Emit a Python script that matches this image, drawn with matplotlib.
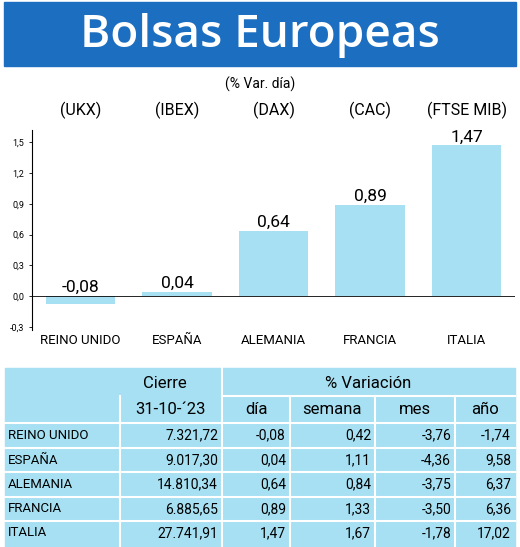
import matplotlib
matplotlib.use("Agg")
import matplotlib.pyplot as plt
from matplotlib.patches import Rectangle

countries = ["REINO UNIDO", "ESPAÑA", "ALEMANIA", "FRANCIA", "ITALIA"]
indices = ["(UKX)", "(IBEX)", "(DAX)", "(CAC)", "(FTSE MIB)"]
var_dia = [-0.08, 0.04, 0.64, 0.89, 1.47]
bar_labels = ["-0,08", "0,04", "0,64", "0,89", "1,47"]
yticks = [-0.3, 0.0, 0.3, 0.6, 0.9, 1.2, 1.5]
ytick_labels = ["-0,3", "0,0", "0,3", "0,6", "0,9", "1,2", "1,5"]
cierre = ["7.321,72", "9.017,30", "14.810,34", "6.885,65", "27.741,91"]
dia = ["-0,08", "0,04", "0,64", "0,89", "1,47"]
semana = ["0,42", "1,11", "0,84", "1,33", "1,67"]
mes = ["-3,76", "-4,36", "-3,75", "-3,50", "-1,78"]
anio = ["-1,74", "9,58", "6,37", "6,36", "17,02"]

W, H = 520, 547
BLUE = "#1c6fc0"
LB = "#a6e0f2"
NARROW = ["Liberation Sans Narrow", "Roboto", "DejaVu Sans"]

fig = plt.figure(figsize=(W/100, H/100), dpi=100)
bg = fig.add_axes([0, 0, 1, 1])
bg.set_xlim(0, W); bg.set_ylim(H, 0); bg.axis("off")

bg.add_patch(Rectangle((4, 2), W-8, 64, color=BLUE))
bg.text(W/2, 35, "Bolsas Europeas", color="white", fontsize=33, ha="center", va="center",
        family=["Open Sans", "DejaVu Sans"], fontweight="semibold")
bg.text(W/2, 84, "(% Var. día)", fontsize=10, ha="center", va="center", family=NARROW)

ax = fig.add_axes([32/W, 1-330/H, (515-32)/W, 200/H])
x = range(len(countries))
ax.bar(x, var_dia, width=0.72, color=LB)
ax.set_ylim(-0.33, 1.62)
ax.set_xlim(-0.5, 4.5)
ax.set_yticks(yticks)
ax.set_yticklabels(ytick_labels, fontsize=6.5, family=NARROW)
ax.axhline(0, color="black", lw=0.6)
ax.set_xticks([])
for s in ["top", "right", "bottom"]:
    ax.spines[s].set_visible(False)
ax.spines["left"].set_linewidth(0.8)
ax.tick_params(axis="y", length=2, width=0.6)
for i, v in enumerate(var_dia):
    ax.text(i, max(v, 0) + 0.01, bar_labels[i], ha="center", va="bottom", fontsize=12.5,
            family=NARROW)
    ax.text(i, 1.73, indices[i], ha="center", va="bottom", fontsize=11.5, family=NARROW,
            clip_on=False)
    ax.text(i, -0.37, countries[i], ha="center", va="top", fontsize=9.5, family=NARROW,
            clip_on=False)

top, bot = 368, 547
bg.add_patch(Rectangle((5, top), 510, bot-top, color=LB))
rows_y = [top, 396, 423, 448, 472, 497, 521, 545]
bg.plot([222, 515], [396, 396], color="white", lw=1.5)
for y in rows_y[2:-1]:
    bg.plot([5, 515], [y, y], color="white", lw=1.5)
bg.plot([222, 222], [top, bot], color="white", lw=1.5)
bg.plot([120, 120], [396, bot], color="white", lw=1.5)
for xv in [290, 375, 455]:
    bg.plot([xv, xv], [396, bot], color="white", lw=1.5)
bg.text(165, 383, "Cierre", ha="center", va="center", fontsize=12, family=NARROW)
bg.text(368, 383, "% Variación", ha="center", va="center", fontsize=12, family=NARROW)
bg.text(171, 410, "31-10-´23", ha="center", va="center", fontsize=12, family=NARROW)
for xc, t in [(256, "día"), (332, "semana"), (415, "mes"), (485, "año")]:
    bg.text(xc, 410, t, ha="center", va="center", fontsize=12, family=NARROW)
for r in range(5):
    yc = (rows_y[r+2] + rows_y[r+3]) / 2
    bg.text(8, yc, countries[r], ha="left", va="center", fontsize=9.5, family=NARROW)
    bg.text(218, yc, cierre[r], ha="right", va="center", fontsize=10, family=NARROW)
    bg.text(286, yc, dia[r], ha="right", va="center", fontsize=10, family=NARROW)
    bg.text(371, yc, semana[r], ha="right", va="center", fontsize=10, family=NARROW)
    bg.text(451, yc, mes[r], ha="right", va="center", fontsize=10, family=NARROW)
    bg.text(511, yc, anio[r], ha="right", va="center", fontsize=10, family=NARROW)

fig.savefig("out.png", dpi=100)
